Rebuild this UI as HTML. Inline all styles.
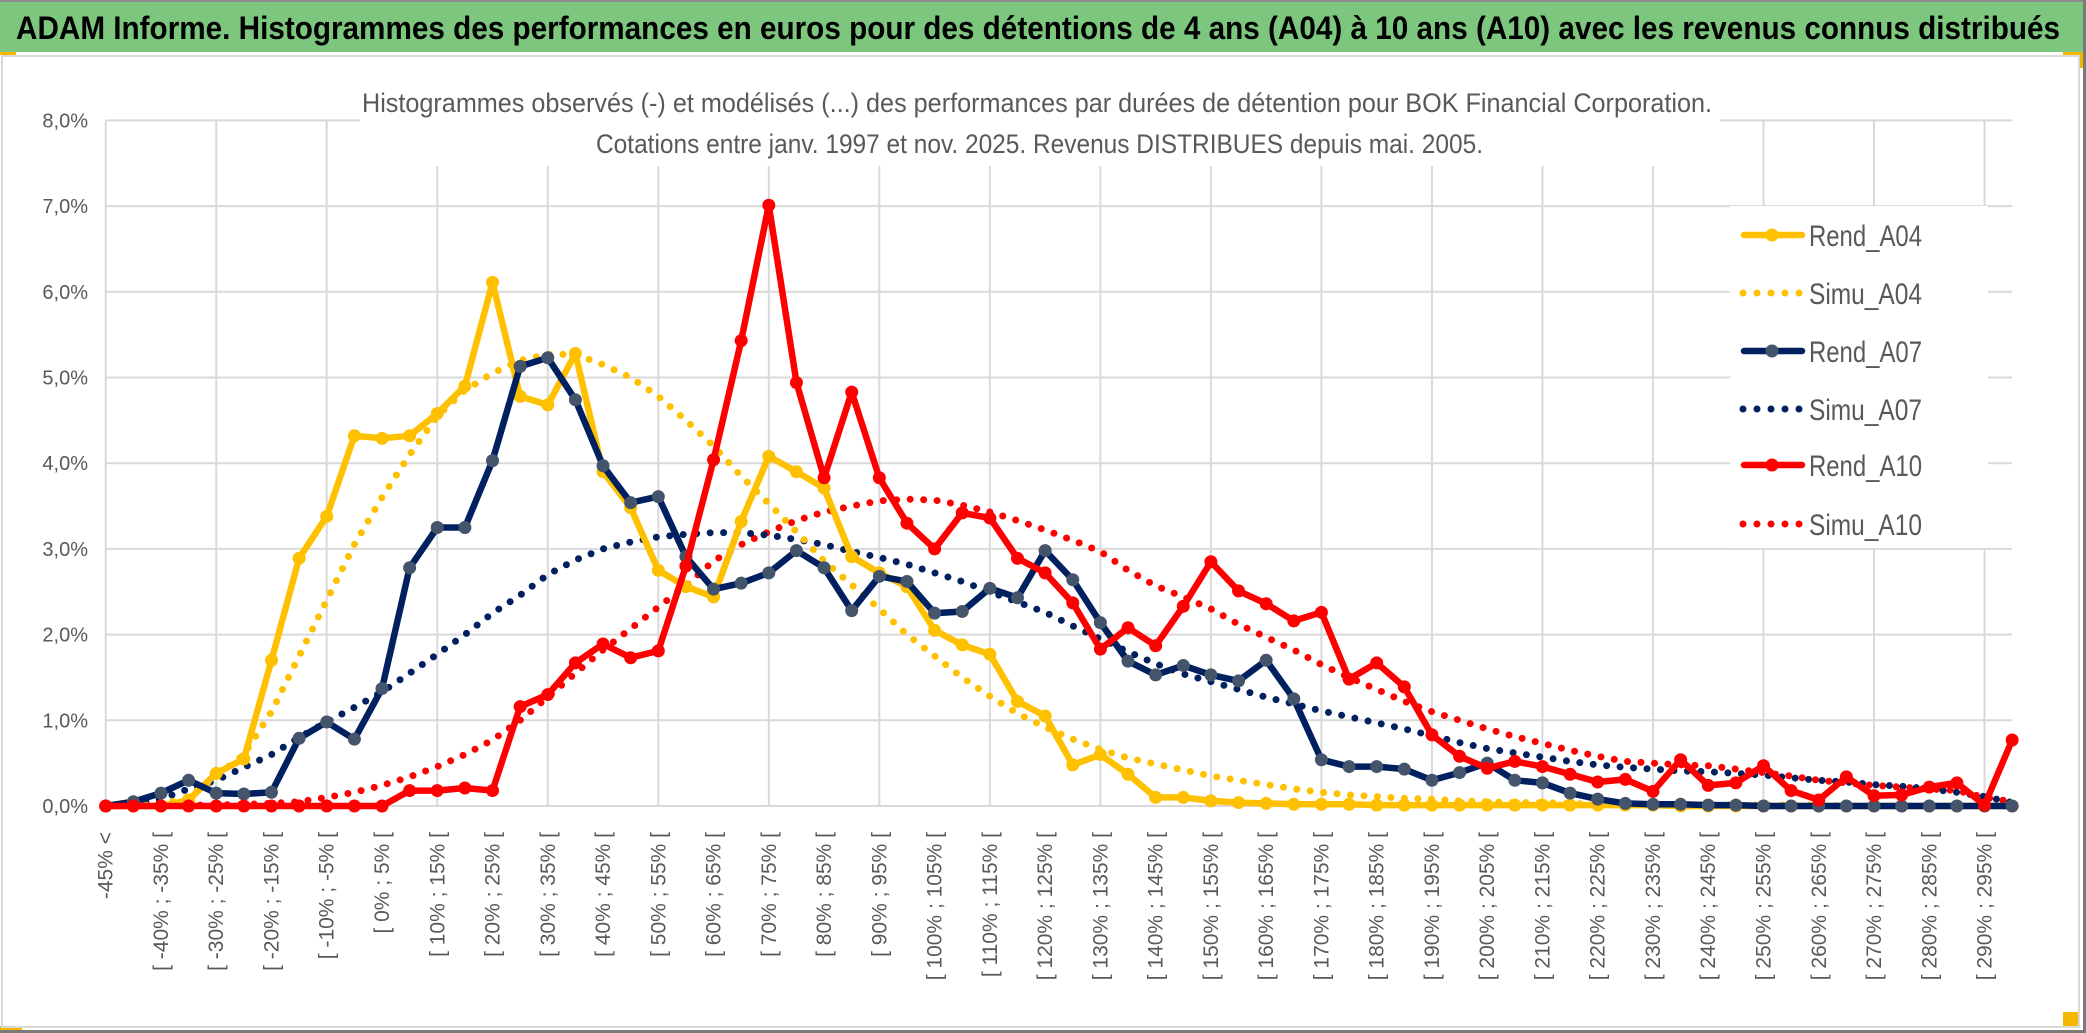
<!DOCTYPE html>
<html><head><meta charset="utf-8"><style>
html,body{margin:0;padding:0;background:#fff;}
svg{display:block;font-family:"Liberation Sans Narrow","Liberation Sans",sans-serif;}
</style></head><body>
<svg id="chart" xmlns="http://www.w3.org/2000/svg" width="2086" height="1033" viewBox="0 0 2086 1033">
<rect x="0" y="0" width="2086" height="1033" fill="#fff"/>
<rect x="0" y="2" width="2083" height="50" fill="#7DC67E"/>
<rect x="0" y="0" width="2086" height="2" fill="#8a8a8a"/>
<rect x="2083" y="0" width="3" height="1033" fill="#7a7a7a"/>
<rect x="0" y="1030" width="2086" height="3" fill="#7a7a7a"/>
<rect x="0" y="52" width="16" height="3" fill="#F5B800"/>
<rect x="2063" y="52" width="20" height="4" fill="#F5B800"/>
<rect x="2079" y="52" width="4" height="16" fill="#F5B800"/>
<rect x="2063" y="1012" width="17" height="16" fill="#F5B800"/>
<rect x="0" y="1026" width="22" height="4" fill="#F5B800"/>
<rect x="2" y="56" width="2077" height="971" fill="none" stroke="#d9d9d9" stroke-width="2"/>
<text x="16" y="39" font-size="32" font-weight="bold" fill="#000" textLength="2044" lengthAdjust="spacingAndGlyphs">ADAM Informe. Histogrammes des performances en euros pour des détentions de 4 ans (A04) à 10 ans (A10) avec les revenus connus distribués</text>
<g id="grid"></g>
<rect x="360" y="60" width="1360" height="106" fill="#fff"/>
<text x="362" y="112" font-size="27" fill="#595959" textLength="1350" lengthAdjust="spacingAndGlyphs">Histogrammes observés (-) et modélisés (...) des performances par durées de détention pour BOK Financial Corporation.</text>
<text x="596" y="153" font-size="27" fill="#595959" textLength="887" lengthAdjust="spacingAndGlyphs">Cotations entre janv. 1997 et nov. 2025. Revenus DISTRIBUES depuis mai. 2005.</text>
<g id="yaxis"></g>
<g id="xaxis"></g>
<g id="series"></g>
<g id="legend"></g>
</svg>
<script>
const categories = ["-45% <"];
for (let k = 1; k < 70; k++) { const a = -50 + 5 * k; categories.push("[ " + a + "% ; " + (a + 5) + "% ["); }
const yTicks = [0,1,2,3,4,5,6,7,8];
const yTickLabels = ["0,0%","1,0%","2,0%","3,0%","4,0%","5,0%","6,0%","7,0%","8,0%"];
const seriesNames = ["Rend_A04","Simu_A04","Rend_A07","Simu_A07","Rend_A10","Simu_A10"];
const rendA04 = [0,0,0,0.07,0.38,0.55,1.7,2.89,3.38,4.32,4.29,4.32,4.58,4.9,6.11,4.78,4.68,5.28,3.9,3.48,2.75,2.56,2.44,3.32,4.08,3.9,3.71,2.91,2.72,2.56,2.05,1.88,1.77,1.22,1.05,0.48,0.6,0.37,0.1,0.1,0.06,0.04,0.03,0.02,0.02,0.02,0.01,0.01,0.01,0.01,0.01,0.01,0.01,0.01,0.01,0.01,0.01,0,0,0,0,0,0,0,0,0,0,0,0,0];
const simuA04 = [0,0,0.02,0.1,0.35,0.6,1.1,1.75,2.4,3.05,3.6,4.1,4.55,4.85,5.05,5.2,5.27,5.27,5.15,5.0,4.78,4.5,4.2,3.85,3.53,3.2,2.86,2.58,2.3,2.0,1.75,1.5,1.28,1.08,0.92,0.78,0.66,0.56,0.49,0.42,0.35,0.3,0.25,0.2,0.16,0.13,0.11,0.09,0.08,0.06,0.05,0.04,0.04,0.03,0.02,0.02,0.01,0.01,0.01,0.01,0.01,0.01,0.01,0,0,0,0,0,0,0];
const rendA07 = [0,0.05,0.15,0.3,0.15,0.14,0.16,0.79,0.98,0.78,1.37,2.78,3.25,3.25,4.03,5.13,5.23,4.74,3.97,3.54,3.61,2.91,2.53,2.6,2.72,2.98,2.78,2.28,2.68,2.62,2.25,2.27,2.54,2.43,2.98,2.64,2.14,1.69,1.53,1.64,1.53,1.46,1.7,1.25,0.54,0.46,0.46,0.43,0.3,0.39,0.5,0.3,0.27,0.15,0.08,0.03,0.02,0.02,0.01,0.01,0,0,0,0,0,0,0,0,0,0];
const simuA07 = [0,0.02,0.08,0.2,0.3,0.45,0.6,0.8,0.98,1.15,1.33,1.55,1.77,2.0,2.25,2.46,2.7,2.87,3.0,3.08,3.14,3.17,3.19,3.19,3.16,3.11,3.05,2.97,2.9,2.82,2.72,2.62,2.5,2.38,2.26,2.1,1.95,1.8,1.66,1.54,1.45,1.36,1.27,1.19,1.11,1.04,0.97,0.9,0.82,0.74,0.67,0.62,0.57,0.52,0.48,0.45,0.43,0.41,0.4,0.38,0.36,0.33,0.3,0.28,0.25,0.23,0.2,0.16,0.11,0.04];
const rendA10 = [0,0,0,0,0,0,0,0,0,0,0,0.18,0.18,0.21,0.18,1.16,1.3,1.67,1.89,1.73,1.81,2.8,4.04,5.43,7.01,4.94,3.83,4.83,3.83,3.3,3.0,3.42,3.36,2.89,2.72,2.37,1.83,2.08,1.87,2.33,2.85,2.51,2.36,2.16,2.26,1.48,1.67,1.39,0.83,0.58,0.44,0.52,0.46,0.37,0.28,0.31,0.17,0.54,0.24,0.27,0.47,0.18,0.07,0.34,0.12,0.13,0.22,0.27,0.01,0.77];
const simuA10 = [0,0,0,0.01,0.01,0.02,0.03,0.05,0.1,0.16,0.24,0.34,0.46,0.6,0.77,1.0,1.27,1.55,1.82,2.07,2.32,2.57,2.86,3.05,3.2,3.33,3.43,3.5,3.56,3.58,3.57,3.51,3.43,3.33,3.22,3.1,2.97,2.75,2.57,2.44,2.3,2.12,1.97,1.82,1.65,1.5,1.36,1.22,1.1,1.0,0.9,0.81,0.73,0.65,0.58,0.52,0.5,0.48,0.47,0.43,0.39,0.35,0.3,0.27,0.24,0.22,0.2,0.18,0.1,0.05];

const NS = "http://www.w3.org/2000/svg";
const X0 = 105.7, DX = 27.63, Y0 = 806, DY = 85.7;
function xPos(i){ return X0 + i * DX; }
function yPos(v){ return Y0 - v * DY; }
function mk(tag, attrs, parent){ const e = document.createElementNS(NS, tag); for (const k in attrs) e.setAttribute(k, attrs[k]); parent.appendChild(e); return e; }

const grid = document.getElementById("grid");
yTicks.forEach(function(t){
  const l = mk("line", {x1: X0, x2: xPos(categories.length - 1), y1: yPos(t), y2: yPos(t), stroke: "#d9d9d9", "stroke-width": 2}, grid);
  
  
});
for (let i = 0; i < categories.length; i += 4) {
  const l = mk("line", {x1: xPos(i), x2: xPos(i), y1: yPos(8), y2: Y0, stroke: "#d9d9d9", "stroke-width": 2}, grid);
  
  
}

const yax = document.getElementById("yaxis");
yTicks.forEach(function(t, k){
  const tx = mk("text", {x: 88, y: yPos(t) + 7, "text-anchor": "end", "font-size": 20, fill: "#595959"}, yax);
  tx.textContent = yTickLabels[k];
  
  
});

const xax = document.getElementById("xaxis");
for (let i = 0; i < categories.length; i += 2) {
  const x = xPos(i) + 7;
  const tx = mk("text", {x: x, y: 832, transform: "rotate(-90 " + x + " 832)", "text-anchor": "end", "font-size": 21, fill: "#595959"}, xax);
  tx.textContent = categories[i];
  
  
}

const sg = document.getElementById("series");
function pathD(vals){ return vals.map(function(v, i){ return (i ? "L" : "M") + xPos(i).toFixed(1) + " " + yPos(v).toFixed(1); }).join(" "); }
function dotted(vals, color, name){
  const p = mk("path", {d: pathD(vals), fill: "none", stroke: color, "stroke-width": 7, "stroke-linecap": "round", "stroke-dasharray": "0 13.5"}, sg);
  
  
}
function solid(vals, color, mcolor, name){
  const p = mk("path", {d: pathD(vals), fill: "none", stroke: color, "stroke-width": 6.5, "stroke-linejoin": "round"}, sg);
  
  
  vals.forEach(function(v, i){
    const c = mk("circle", {cx: xPos(i), cy: yPos(v), r: 6.5, fill: mcolor}, sg);
    
    
  });
}
dotted(simuA10, "#FF0000", "simu-a10-line");
dotted(simuA07, "#002060", "simu-a07-line");
dotted(simuA04, "#FFC000", "simu-a04-line");
solid(rendA04, "#FFC000", "#FFC000", "rend-a04-line");
solid(rendA07, "#002060", "#44546A", "rend-a07-line");
solid(rendA10, "#FF0000", "#FF0000", "rend-a10-line");

const lg = document.getElementById("legend");
const lb = mk("rect", {x: 1730, y: 206, width: 258, height: 342, fill: "#fff"}, lg);


const legColors = ["#FFC000","#FFC000","#002060","#002060","#FF0000","#FF0000"];
const legMarker = ["#FFC000",null,"#44546A",null,"#FF0000",null];
const legY = [235,293,351,409,465,524];
seriesNames.forEach(function(n, k){
  const g = mk("g", {}, lg);
  
  
  if (legMarker[k]) {
    mk("line", {x1: 1744, x2: 1802, y1: legY[k], y2: legY[k], stroke: legColors[k], "stroke-width": 6.5, "stroke-linecap": "round"}, g);
    mk("circle", {cx: 1772, cy: legY[k], r: 6.5, fill: legMarker[k]}, g);
  } else {
    mk("line", {x1: 1743, x2: 1802, y1: legY[k], y2: legY[k], stroke: legColors[k], "stroke-width": 7, "stroke-linecap": "round", "stroke-dasharray": "0 14"}, g);
  }
  const t = mk("text", {x: 1809, y: legY[k] + 11, "font-size": 30, fill: "#595959", textLength: 113, lengthAdjust: "spacingAndGlyphs"}, g);
  t.textContent = n;
});
</script>
</body></html>
